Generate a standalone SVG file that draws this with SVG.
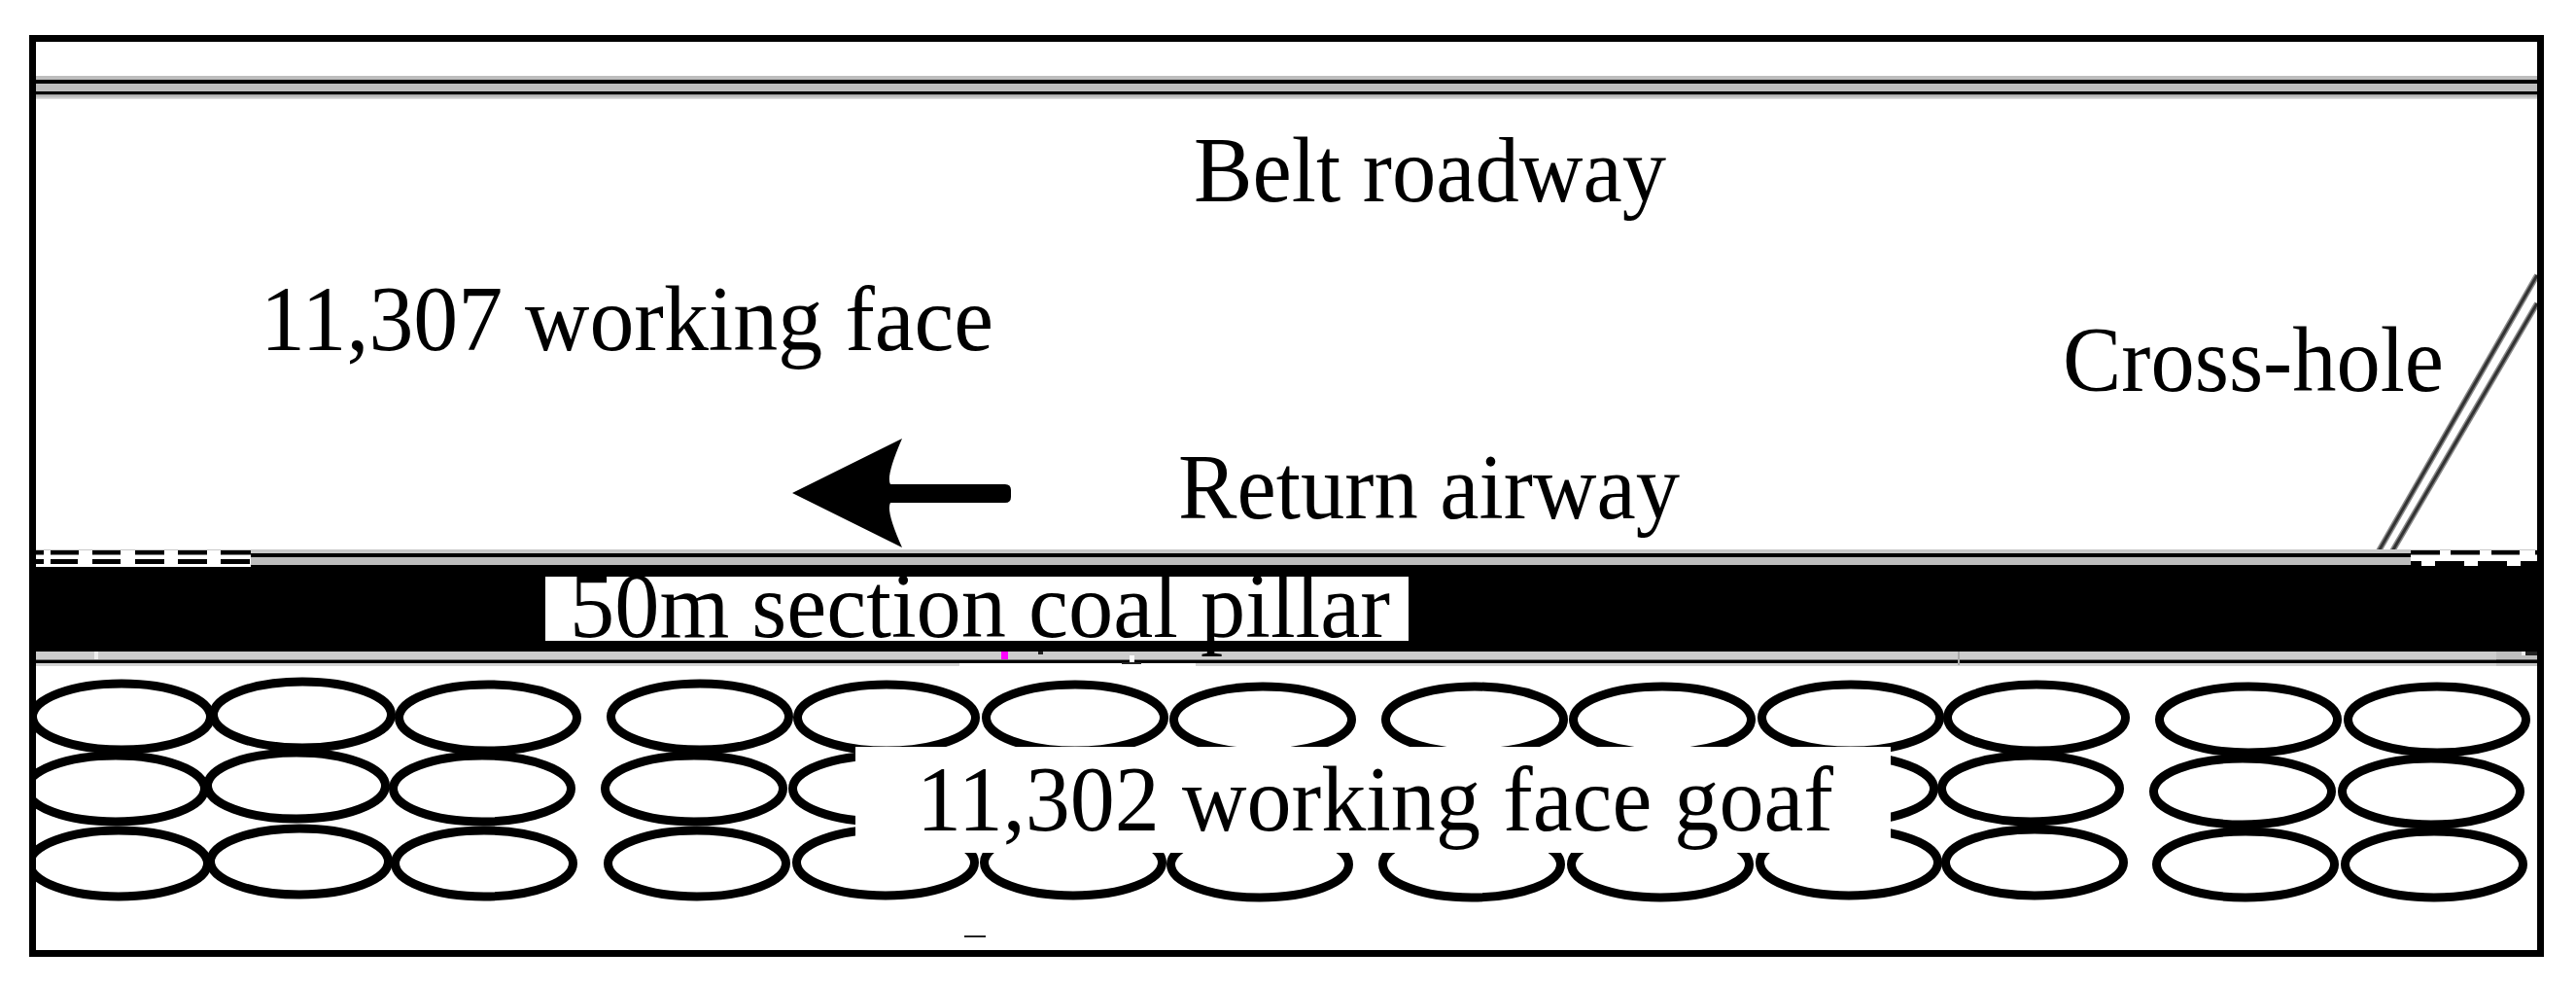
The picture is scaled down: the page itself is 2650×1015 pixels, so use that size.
<svg xmlns="http://www.w3.org/2000/svg" width="2650" height="1015" viewBox="0 0 2650 1015">
<style>
text{font-family:"Liberation Serif","Times New Roman",serif;font-size:95px;fill:#000}
.e{fill:none;stroke:#000;stroke-width:9}
.d{fill:#000}
.w{fill:#fff}
</style>
<defs><clipPath id="inner"><rect x="37" y="43" width="2574" height="935"/></clipPath></defs>
<rect width="2650" height="1015" fill="#fff"/>
<g id="belt-road">
<rect x="37" y="78" width="2574" height="24" fill="#dcdcdc"/>
<rect x="37" y="78" width="2574" height="4" fill="#bdbdbd"/>
<rect x="37" y="82" width="2574" height="4" fill="#000"/>
<rect x="37" y="86" width="2574" height="8" fill="#bdbdbd"/>
<rect x="37" y="94" width="2574" height="3.5" fill="#000"/>
<rect x="37" y="97.5" width="2574" height="3" fill="#bdbdbd"/>
</g>
<g id="cross-hole" fill="none">
<g stroke="#8a8a8a" stroke-width="6">
<line x1="2444" y1="572" x2="2610" y2="283"/>
<line x1="2458" y1="572" x2="2610" y2="312"/>
</g>
<g stroke="#333" stroke-width="3">
<line x1="2444" y1="572" x2="2610" y2="283"/>
<line x1="2458" y1="572" x2="2610" y2="312"/>
</g>
</g>
<g id="return-road">
<rect x="37" y="565" width="2574" height="4" fill="#c8c8c8"/>
<rect x="37" y="569" width="2574" height="4" fill="#000"/>
<rect x="37" y="573" width="2574" height="8" fill="#bdbdbd"/>
</g>
<g id="pillar">
<rect x="37" y="581" width="2574" height="89" fill="#000"/>
<rect x="37" y="670" width="2574" height="8.500" fill="#cdcdcd"/>
<rect x="37" y="678.500" width="2574" height="3.500" fill="#000"/>
<rect x="37" y="682" width="950" height="3" fill="#d4d4d4"/>
<rect x="1230" y="682" width="1381" height="3" fill="#d4d4d4"/>
<rect x="2568" y="670" width="43" height="15" fill="#b4b4b4" opacity=".55"/>
<rect x="2568" y="678.500" width="43" height="3.500" fill="#000"/>
<rect x="2598" y="670" width="13" height="4" fill="#222"/>
<rect x="2594" y="670" width="4" height="4" fill="#eee"/>
<rect x="1030" y="670" width="7" height="8" fill="#f0f"/>
<rect x="1068" y="670" width="5" height="3" fill="#222"/>
<rect x="1162" y="674" width="5" height="9" fill="#fff"/>
<rect x="1154" y="681" width="20" height="2" fill="#222"/>
<rect x="97" y="670" width="4" height="8" fill="#eee"/>
<rect x="2014" y="670" width="2" height="14" fill="#aaa"/>
</g>
<g id="dash-left">
<rect x="37" y="566" width="221" height="17" class="w"/>
<path class="d" d="M37 566h8v4.500h-8zM52 566h29v4.500h-29zM95 566h29v4.500h-29zM139 566h30v4.500h-30zM183 566h30v4.500h-30zM227 566h31v4.500h-31z"/>
<path class="d" d="M37 575h8v5h-8zM52 575h28v5h-28zM95 575h29v5h-29zM139 575h30v5h-30zM183 575h30v5h-30zM227 575h30v5h-30z"/>
</g>
<g id="dash-right">
<rect x="2480" y="566" width="131" height="16" class="w"/>
<path class="d" d="M2480 566h30v4.500h-30zM2521 566h30v4.500h-30zM2563 566h29v4.500h-29zM2608 566h3v4.500h-3z"/>
<path class="d" d="M2480 577h11v6h-11zM2505 577h30v6h-30zM2549 577h30v6h-30zM2593 577h18v6h-18z"/>
</g>
<g id="goaf-voids" clip-path="url(#inner)">
<ellipse class="e" cx="125" cy="737" rx="91.500" ry="34"/><ellipse class="e" cx="311" cy="735" rx="91.500" ry="34"/><ellipse class="e" cx="502" cy="738" rx="91.500" ry="34"/><ellipse class="e" cx="720" cy="737" rx="91.500" ry="34"/><ellipse class="e" cx="912" cy="738" rx="91.500" ry="34"/><ellipse class="e" cx="1106" cy="738" rx="91.500" ry="34"/><ellipse class="e" cx="1299" cy="740" rx="91.500" ry="34"/><ellipse class="e" cx="1517" cy="740" rx="91.500" ry="34"/><ellipse class="e" cx="1710" cy="740" rx="91.500" ry="34"/><ellipse class="e" cx="1904" cy="738" rx="91.500" ry="34"/><ellipse class="e" cx="2095" cy="738" rx="91.500" ry="34"/><ellipse class="e" cx="2313" cy="740" rx="91.500" ry="34"/><ellipse class="e" cx="2507" cy="740" rx="91.500" ry="34"/>
<ellipse class="e" cx="119" cy="811" rx="91.500" ry="34"/><ellipse class="e" cx="305" cy="808" rx="91.500" ry="34"/><ellipse class="e" cx="496" cy="811" rx="91.500" ry="34"/><ellipse class="e" cx="714" cy="811" rx="91.500" ry="34"/><ellipse class="e" cx="907" cy="811" rx="91.500" ry="34"/><ellipse class="e" cx="1100" cy="811" rx="91.500" ry="34"/><ellipse class="e" cx="1293" cy="811" rx="91.500" ry="34"/><ellipse class="e" cx="1511" cy="811" rx="91.500" ry="34"/><ellipse class="e" cx="1704" cy="811" rx="91.500" ry="34"/><ellipse class="e" cx="1898" cy="811" rx="91.500" ry="34"/><ellipse class="e" cx="2089" cy="811" rx="91.500" ry="34"/><ellipse class="e" cx="2307" cy="814" rx="91.500" ry="34"/><ellipse class="e" cx="2501" cy="814" rx="91.500" ry="34"/>
<ellipse class="e" cx="122" cy="888" rx="91.500" ry="34"/><ellipse class="e" cx="308" cy="886" rx="91.500" ry="34"/><ellipse class="e" cx="498" cy="888" rx="91.500" ry="34"/><ellipse class="e" cx="717" cy="888" rx="91.500" ry="34"/><ellipse class="e" cx="911" cy="887" rx="91.500" ry="34"/><ellipse class="e" cx="1104" cy="887" rx="91.500" ry="34"/><ellipse class="e" cx="1296" cy="889" rx="91.500" ry="34"/><ellipse class="e" cx="1514" cy="889" rx="91.500" ry="34"/><ellipse class="e" cx="1708" cy="889" rx="91.500" ry="34"/><ellipse class="e" cx="1902" cy="887" rx="91.500" ry="34"/><ellipse class="e" cx="2093" cy="887" rx="91.500" ry="34"/><ellipse class="e" cx="2310" cy="889" rx="91.500" ry="34"/><ellipse class="e" cx="2504" cy="889" rx="91.500" ry="34"/>
<rect x="992" y="962" width="22" height="2" fill="#222"/>
</g>
<g id="arrow">
<path class="d" d="M815 507L928 451Q911 490 916 498H1034Q1040 498 1040 504V511Q1040 517 1034 517H916Q911 525 928 563Z"/>
</g>
<rect id="frame" x="33.500" y="39.500" width="2580" height="941" fill="none" stroke="#000" stroke-width="7"/>
<g id="label-belt"><text x="1228" y="207" textLength="486" lengthAdjust="spacingAndGlyphs">Belt roadway</text></g>
<g id="label-face"><text x="268" y="360" textLength="754" lengthAdjust="spacingAndGlyphs">11,307 working face</text></g>
<g id="label-cross"><text x="2122" y="402" textLength="392" lengthAdjust="spacingAndGlyphs">Cross-hole</text></g>
<g id="label-return"><text x="1212" y="533" textLength="516" lengthAdjust="spacingAndGlyphs">Return airway</text></g>
<g id="label-pillar"><rect class="w" x="561" y="593" width="888" height="66"/><text x="586" y="655" textLength="844" lengthAdjust="spacingAndGlyphs">50m section coal pillar</text></g>
<g id="label-goaf"><rect class="w" x="880" y="768" width="1065" height="109"/><text x="943" y="854" textLength="943" lengthAdjust="spacingAndGlyphs">11,302 working face goaf</text></g>
</svg>
